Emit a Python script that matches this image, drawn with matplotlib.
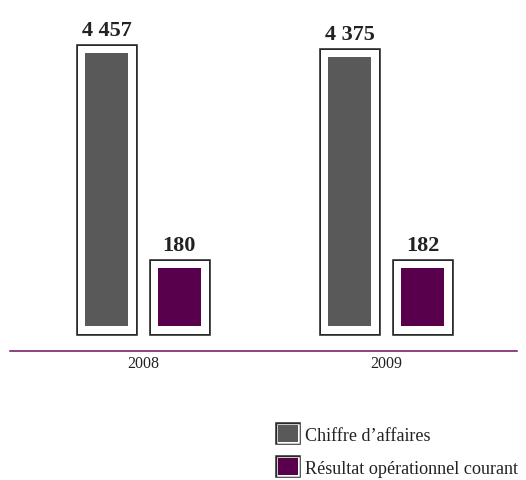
import matplotlib
matplotlib.use("Agg")
from matplotlib import pyplot as plt
from matplotlib import patheffects as pe
from matplotlib.patches import Patch

# données
annees = ["2008", "2009"]
chiffre_affaires = [4457, 4375]
resultat_op = [180, 182]
series = ["Chiffre d\u2019affaires", "Résultat opérationnel courant"]

couleur_ca = "#595959"
couleur_rop = "#58004c"
couleur_ligne = "#6e0f62"
couleur_cadre = "#2a2a2a"

plt.rcParams["font.family"] = ["Liberation Serif", "DejaVu Serif"]


def cadre(lw_ext, lw_int):
    """contour blanc + filet noir autour d'une barre"""
    return [pe.Stroke(linewidth=lw_ext, foreground=couleur_cadre, joinstyle="miter"),
            pe.Stroke(linewidth=lw_int, foreground="white", joinstyle="miter"),
            pe.Normal()]


def main():
    fig = plt.figure(figsize=(5.26, 4.81), dpi=100)
    ax = fig.add_axes([10 / 526, 129 / 481, 507 / 526, 352 / 481])

    x = list(range(len(annees)))
    base = -975  # pied des barres
    ecart = 0.1497
    largeur = 0.1766

    b1 = ax.bar([i - ecart for i in x], [v - base for v in chiffre_affaires], bottom=base,
                width=largeur, color=couleur_ca, linewidth=0)
    b2 = ax.bar([i + ecart for i in x], [v - base for v in resultat_op], bottom=base,
                width=largeur, color=couleur_rop, linewidth=0)
    for b in list(b1) + list(b2):
        b.set_path_effects(cadre(13.4, 10.8))

    # étiquettes de valeurs
    for xs, vals in (([i - ecart for i in x], chiffre_affaires), ([i + ecart for i in x], resultat_op)):
        for xi, v in zip(xs, vals):
            ax.annotate(f"{v:,}".replace(",", " "), xy=(xi, v), xytext=(0, 13),
                        textcoords="offset points", ha="center", va="baseline",
                        fontsize=16, fontweight="bold", color="#222222")

    ax.set_xlim(-0.5457, 1.537)
    ax.set_ylim(-1471, 5531)
    ax.set_xticks(x)
    ax.set_xticklabels(annees, fontsize=11.5, color="#222222")
    ax.tick_params(axis="x", length=0, pad=3)
    ax.set_yticks([])
    for s in ("top", "left", "right"):
        ax.spines[s].set_visible(False)
    ax.spines["bottom"].set_color(couleur_ligne)
    ax.spines["bottom"].set_linewidth(1.1)

    # légende
    poignees = [Patch(facecolor=couleur_ca, linewidth=0, path_effects=cadre(4.0, 1.8)),
                Patch(facecolor=couleur_rop, linewidth=0, path_effects=cadre(4.0, 1.8))]
    fig.legend(poignees, series, loc="upper left", bbox_to_anchor=(278 / 526, 1 - 426 / 481),
               frameon=False, fontsize=13.1, handlelength=1.08, handleheight=1.08,
               handletextpad=0.38, labelspacing=0.78, borderpad=0, borderaxespad=0,
               labelcolor="#222222")

    fig.savefig("out.png", dpi=100)


if __name__ == "__main__":
    main()
